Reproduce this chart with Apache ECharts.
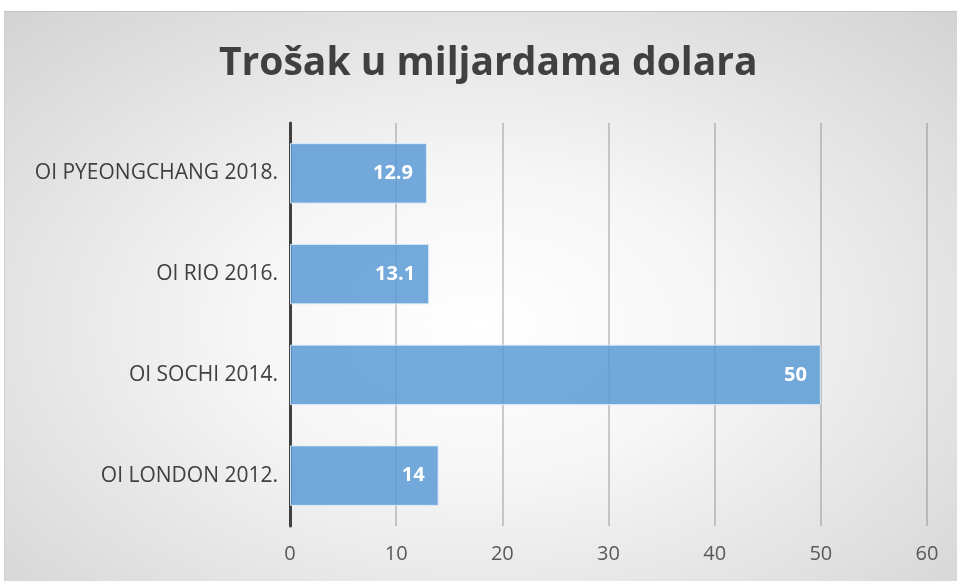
<!DOCTYPE html>
<html>
<head>
<meta charset="utf-8">
<script src="https://cdn.jsdelivr.net/npm/echarts@6/dist/echarts.min.js"></script>
<style>
  html, body { margin: 0; padding: 0; background: #fff; width: 957px; height: 581px; overflow: hidden; }
  #chart {
    position: absolute; left: 4px; top: 11px; width: 953px; height: 570px;
    border-top: 1px solid #c4c4c4; border-left: 1px solid #d0d0d0;
    box-sizing: border-box;
    background: radial-gradient(ellipse 70% 75% at 50% 55%, #ffffff 0%, #f6f6f6 35%, #d4d4d4 100%);
  }
</style>
</head>
<body>
<div id="chart"></div>
<script>
const categories = ["OI LONDON 2012.", "OI SOCHI 2014.", "OI RIO 2016.", "OI PYEONGCHANG 2018."];
const costs = [14, 50, 13.1, 12.9];
const tickMax = 60;
const tickStep = 10;

const chart = echarts.init(document.getElementById("chart"));

const option = {
  animation: false,
  title: {
    text: "Trošak u miljardama dolara",
    left: 209,
    top: 27,
    textStyle: {
      fontFamily: "Open Sans",
      fontSize: 39,
      fontWeight: "bold",
      color: "#404040",
    },
  },
  grid: { left: 285, right: 30, top: 111, bottom: 55 },
  xAxis: {
    type: "value",
    min: 0,
    max: tickMax,
    interval: tickStep,
    axisLine: { show: false },
    axisTick: { show: false },
    axisLabel: {
      margin: 18,
      color: "#595959",
      fontFamily: "Open Sans",
      fontSize: 20,
    },
    splitLine: { lineStyle: { color: "rgba(110,110,110,0.45)", width: 1.5 } },
  },
  yAxis: {
    type: "category",
    data: categories,
    axisLine: { show: true, lineStyle: { color: "#404040", width: 3 } },
    axisTick: { show: false },
    axisLabel: {
      margin: 12,
      color: "#404040",
      fontFamily: "Open Sans",
      fontSize: 21,
    },
  },
  series: [
    {
      type: "bar",
      data: costs,
      barWidth: "60%",
      itemStyle: {
        color: "rgba(91,155,213,0.85)",
        borderColor: "rgba(220,235,248,0.9)",
        borderWidth: 1,
      },
      label: {
        show: true,
        position: "insideRight",
        distance: 14,
        color: "#ffffff",
        fontFamily: "Open Sans",
        fontWeight: "bold",
        fontSize: 20,
      },
      z: 1,
    },
  ],
};

chart.setOption(option);
</script>
</body>
</html>
